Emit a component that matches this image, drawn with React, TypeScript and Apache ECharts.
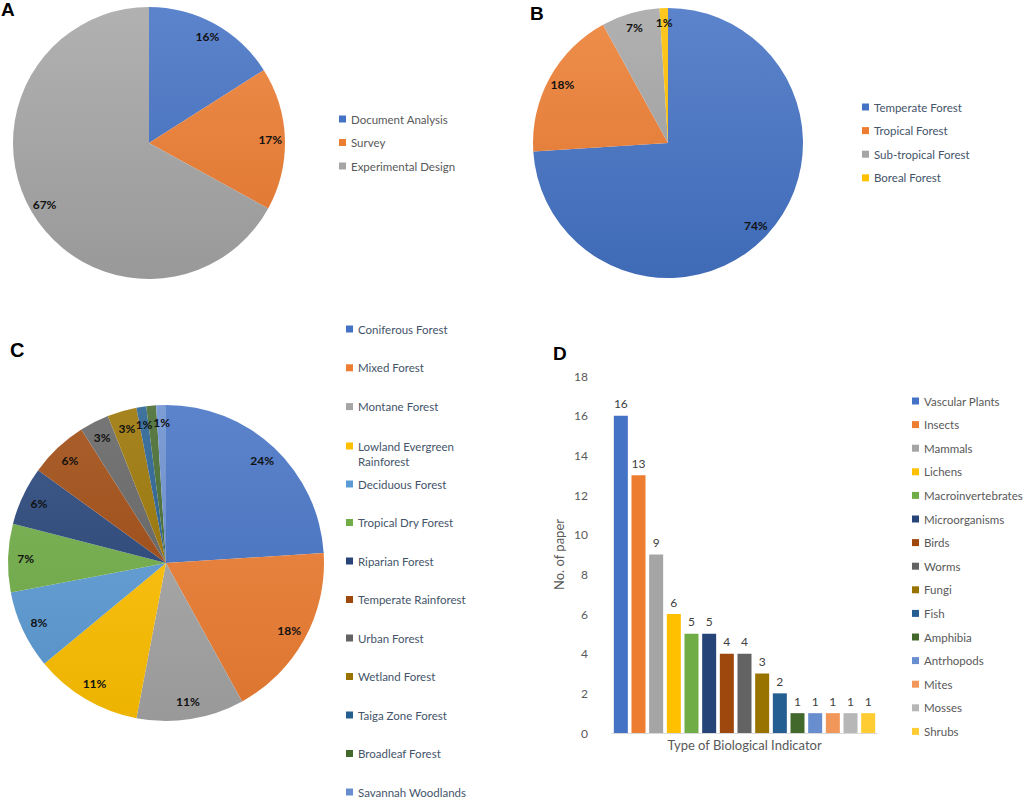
import React, { useEffect, useRef } from 'react';
import * as echarts from 'echarts';

// ---- Panel A: research methods ----
const methodNames = ['Document Analysis', 'Survey', 'Experimental Design'];
const methodValues = [16, 17, 67];
const methodColors = ['#4472C4', '#ED7D31', '#A5A5A5'];

// ---- Panel B: forest biome ----
const biomeNames = ['Temperate Forest', 'Tropical Forest', 'Sub-tropical Forest', 'Boreal Forest'];
const biomeValues = [74, 18, 7, 1];
const biomeColors = ['#4472C4', '#ED7D31', '#A5A5A5', '#FFC000'];

// ---- Panel C: forest type ----
const forestNames = [
  'Coniferous Forest', 'Mixed Forest', 'Montane Forest', 'Lowland Evergreen Rainforest',
  'Deciduous Forest', 'Tropical Dry Forest', 'Riparian Forest', 'Temperate Rainforest',
  'Urban Forest', 'Wetland Forest', 'Taiga Zone Forest', 'Broadleaf Forest', 'Savannah Woodlands',
];
const forestValues = [24, 18, 11, 11, 8, 7, 6, 6, 3, 3, 1, 1, 1];
const forestColors = [
  '#4472C4', '#ED7D31', '#A5A5A5', '#FFC000', '#5B9BD5', '#70AD47', '#264478',
  '#9E480E', '#636363', '#997300', '#255E91', '#43682B', '#698ED0',
];

// ---- Panel D: biological indicators ----
const indicatorNames = [
  'Vascular Plants', 'Insects', 'Mammals', 'Lichens', 'Macroinvertebrates', 'Microorganisms',
  'Birds', 'Worms', 'Fungi', 'Fish', 'Amphibia', 'Antrhopods', 'Mites', 'Mosses', 'Shrubs',
];
const indicatorValues = [16, 13, 9, 6, 5, 5, 4, 4, 3, 2, 1, 1, 1, 1, 1];
const indicatorColors = [
  '#4472C4', '#ED7D31', '#A5A5A5', '#FFC000', '#70AD47', '#264478', '#9E480E', '#636363',
  '#997300', '#255E91', '#43682B', '#698ED0', '#F1975A', '#B7B7B7', '#FFCD33',
];
const yMin = 0;
const yMax = 18;
const yStep = 2;

const FONT = 'Lato';
const LEGEND_SIZE = 11.5;

function shade(hex: string, amt: number): string {
  const n = parseInt(hex.slice(1), 16);
  let r = (n >> 16) & 255, g = (n >> 8) & 255, b = n & 255;
  const t = amt > 0 ? 255 : 0;
  const a = Math.abs(amt);
  r = Math.round(r + (t - r) * a);
  g = Math.round(g + (t - g) * a);
  b = Math.round(b + (t - b) * a);
  return `rgb(${r},${g},${b})`;
}

function grad(c: string, top: number, bottom: number) {
  return new echarts.graphic.LinearGradient(0, top, 0, bottom, [
    { offset: 0, color: shade(c, 0.13) },
    { offset: 1, color: shade(c, -0.07) },
  ], true);
}

function pieSeries(names: string[], values: number[], colors: string[], cx: number, cy: number, r: number) {
  return [
    {
      type: 'pie',
      center: [cx, cy],
      radius: r,
      startAngle: 90,
      clockwise: true,
      silent: true,
      label: { show: false },
      labelLine: { show: false },
      data: names.map((n, i) => ({
        name: n,
        value: values[i],
        itemStyle: { color: grad(colors[i], cy - r, cy + r) },
      })),
    },
    {
      type: 'pie',
      center: [cx, cy],
      radius: [r * 0.74, r],
      startAngle: 90,
      clockwise: true,
      silent: true,
      avoidLabelOverlap: false,
      itemStyle: { color: 'rgba(0,0,0,0)' },
      labelLine: { show: false },
      label: {
        show: true,
        position: 'inside',
        formatter: '{c}%',
        fontFamily: FONT,
        fontWeight: 'bold',
        fontSize: 12,
        color: '#111',
      },
      data: names.map((n, i) => ({ name: n, value: values[i] })),
    },
  ];
}

function legendData(names: string[], colors: string[]) {
  return names.map((n, i) => ({ name: n, itemStyle: { color: colors[i] } }));
}

function legend(names: string[], colors: string[], left: number, top: number, gap: number, color: string, extra: any = {}) {
  return {
    orient: 'vertical',
    left,
    top,
    height: 420,
    padding: 0,
    itemGap: gap,
    itemWidth: 7,
    itemHeight: 7,
    icon: 'rect',
    selectedMode: false,
    data: legendData(names, colors),
    textStyle: { fontFamily: FONT, fontSize: LEGEND_SIZE, color, lineHeight: 14, ...(extra.textStyle || {}) },
    ...(extra.formatter ? { formatter: extra.formatter } : {}),
  };
}

export default function App() {
  const ref = useRef<HTMLDivElement>(null);

  useEffect(() => {
    document.body.style.margin = '0';
    if (!ref.current) return;
    const chart = echarts.init(ref.current, undefined, { renderer: 'svg' });

    const letterStyle = { fontFamily: 'Liberation Sans', fontWeight: 'bold', fontSize: 19, color: '#000' };

    const barSeries = indicatorNames.map((n, i) => ({
      type: 'bar',
      name: n,
      xAxisIndex: 0,
      yAxisIndex: 0,
      barWidth: 14,
      barGap: '-100%',
      silent: true,
      itemStyle: { color: indicatorColors[i] },
      label: {
        show: true,
        position: 'top',
        distance: 6,
        fontFamily: FONT,
        fontSize: 12,
        color: '#404040',
      },
      data: indicatorValues.map((v, j) => (j === i ? v : '-')),
    }));

    const option: any = {
      animation: false,
      backgroundColor: '#ffffff',
      title: [
        { text: 'A', left: 1, top: 0, padding: 0, textStyle: letterStyle },
        { text: 'B', left: 530, top: 4, padding: 0, textStyle: letterStyle },
        { text: 'C', left: 10, top: 340, padding: 0, textStyle: { ...letterStyle, fontSize: 20 } },
        { text: 'D', left: 553, top: 344, padding: 0, textStyle: letterStyle },
      ],
      legend: [
        legend(methodNames, methodColors, 339, 112, 9.5, '#595959'),
        legend(biomeNames, biomeColors, 862, 100, 9.6, '#44546A'),
        legend(forestNames.slice(0, 3), forestColors.slice(0, 3), 346, 322, 24.8, '#44546A'),
        legend(forestNames.slice(3, 4), forestColors.slice(3, 4), 346, 423.5, 0, '#44546A', {
          formatter: (name: string) => '\n' + name.replace('Lowland Evergreen ', 'Lowland Evergreen\n'),
          textStyle: { lineHeight: 15 },
        }),
        legend(forestNames.slice(4), forestColors.slice(4), 346, 478, 26.5, '#44546A', {
          textStyle: { lineHeight: 12 },
        }),
        legend(indicatorNames, indicatorColors, 912, 394, 9.6, '#595959'),
      ],
      grid: { left: 612, top: 376, width: 265, height: 357, containLabel: false },
      xAxis: {
        type: 'category',
        data: indicatorNames,
        axisLabel: { show: false },
        axisTick: { show: false },
        axisLine: { show: true, lineStyle: { color: '#D9D9D9' } },
        name: 'Type of Biological Indicator',
        nameLocation: 'middle',
        nameGap: 5,
        nameTextStyle: { fontFamily: FONT, fontSize: 13, color: '#595959' },
      },
      yAxis: {
        type: 'value',
        min: yMin,
        max: yMax,
        interval: yStep,
        splitLine: { show: false },
        axisLine: { show: false },
        axisTick: { show: false },
        axisLabel: { fontFamily: FONT, fontSize: 12, color: '#595959', margin: 24 },
        name: 'No. of paper',
        nameLocation: 'middle',
        nameGap: 47,
        nameRotate: 90,
        nameTextStyle: { fontFamily: FONT, fontSize: 13, color: '#595959' },
      },
      series: [
        ...pieSeries(methodNames, methodValues, methodColors, 149, 143, 136),
        ...pieSeries(biomeNames, biomeValues, biomeColors, 668, 143, 135),
        ...pieSeries(forestNames, forestValues, forestColors, 166, 563, 158),
        ...barSeries,
      ],
    };

    chart.setOption(option);
    return () => chart.dispose();
  }, []);

  return <div ref={ref} style={{ width: 1024, height: 799 }} />;
}
